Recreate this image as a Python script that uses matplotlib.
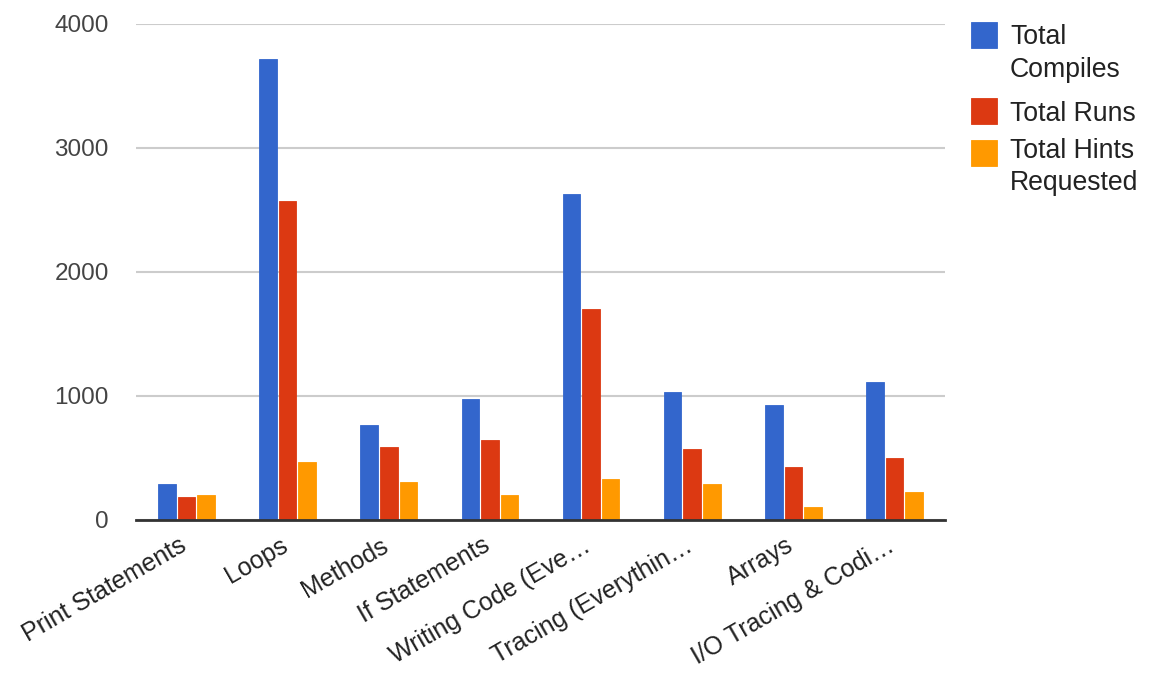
import matplotlib
matplotlib.use("Agg")
import matplotlib.pyplot as plt
from matplotlib.patches import Rectangle
from matplotlib.transforms import ScaledTranslation
import numpy as np

# Chart data
categories = [
    "Print Statements", "Loops", "Methods", "If Statements",
    "Writing Code (Eve\u2026", "Tracing (Everythin\u2026", "Arrays",
    "I/O Tracing & Codi\u2026",
]
total_compiles = [288, 3714, 762, 972, 2625, 1026, 922, 1112]
total_runs = [181, 2571, 587, 639, 1695, 569, 427, 500]
total_hints = [197, 464, 305, 198, 324, 286, 97, 218]

series_labels = ["Total\nCompiles", "Total Runs", "Total Hints\nRequested"]
series_colors = ["#3366cc", "#dc3912", "#ff9900"]
y_ticks = [0, 1000, 2000, 3000, 4000]

plt.rcParams["font.family"] = ["Liberation Sans", "DejaVu Sans"]

W, H = 1151, 675
fig = plt.figure(figsize=(W / 100, H / 100), dpi=100)
left, right, bottom, top = 136, 945, 519.5, 23.5
ax = fig.add_axes([left / W, 1 - bottom / H, (right - left) / W, (bottom - top) / H])

x = np.arange(len(categories))
bar_w = 0.174
step = 0.1935
for j, (vals, col) in enumerate(zip([total_compiles, total_runs, total_hints], series_colors)):
    ax.bar(x + (j - 1) * step, vals, width=bar_w, color=col,
           edgecolor=col, linewidth=0.6, zorder=3)

ax.set_xlim(-0.5, len(categories) - 0.5)
ax.set_ylim(0, 4000)
ax.set_yticks(y_ticks)
ax.set_yticklabels([str(v) for v in y_ticks])
ax.yaxis.grid(True, color="#cccccc", linewidth=1.5, zorder=0)
ax.set_axisbelow(True)
for s in ["top", "right", "left"]:
    ax.spines[s].set_visible(False)
ax.spines["bottom"].set_color("#333333")
ax.spines["bottom"].set_linewidth(2.0)
ax.spines["bottom"].set_zorder(4)

ax.tick_params(axis="y", length=0, pad=19.5, labelsize=17.5, labelcolor="#444444")
ax.tick_params(axis="x", length=0, pad=10, labelsize=18, labelcolor="#222222")
ax.set_xticks(x)
ax.set_xticklabels(categories, rotation=30, ha="right", va="top",
                   rotation_mode="anchor")
shift = ScaledTranslation(-8 / 100, 0, fig.dpi_scale_trans)
for lbl in ax.get_xticklabels():
    lbl.set_transform(lbl.get_transform() + shift)

# Legend, drawn in figure pixel coordinates
legend_rows = [
    (21.7, [44.3, 76.7]),
    (97.7, [121.0]),
    (140.0, [158.0, 190.5]),
]
for (sq_top, baselines), label, col in zip(legend_rows, series_labels, series_colors):
    fig.add_artist(Rectangle((971 / W, 1 - (sq_top + 26) / H), 26 / W, 26 / H,
                             transform=fig.transFigure, facecolor=col,
                             edgecolor=col, linewidth=0.6))
    for line, yb in zip(label.split("\n"), baselines):
        fig.text(1010 / W, 1 - yb / H, line, fontsize=19.2, color="#222222",
                 ha="left", va="baseline")

fig.savefig("out.png", dpi=100, facecolor="white")
